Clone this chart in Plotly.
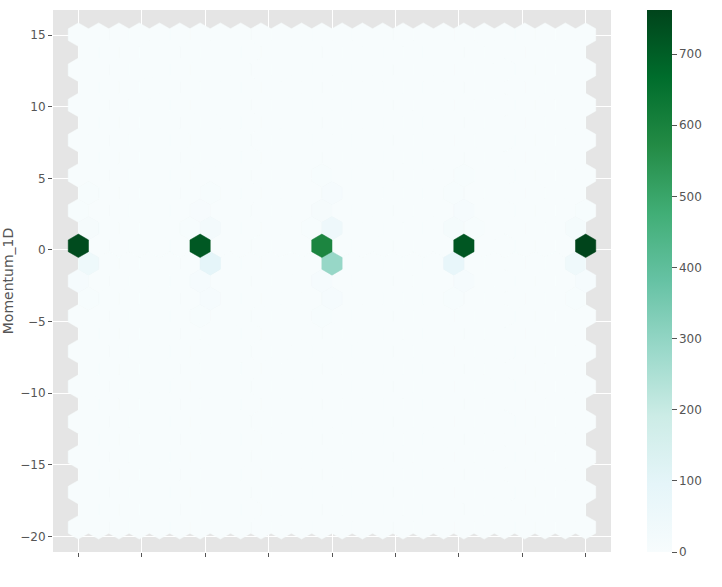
import numpy as np
import plotly.graph_objects as go
from plotly.colors import sample_colorscale

# ---- data range of the hexbin grid ----
x_min, x_max = 0.0, 4.0
y_min, y_max = -19.36, 15.03
gridsize_x = 25
gridsize_y = 14

# ---- non-empty hexagon cells (lattice 1 = main grid, 2 = offset grid) ----
hex_lattice = [1, 2, 2, 1, 1, 2, 2,
               1, 2, 2, 1, 1, 2, 2, 1, 2,
               1, 2, 2, 1, 2, 1, 2, 1, 1, 2,
               1, 2, 2, 1, 1, 2, 2, 2, 1,
               1, 2, 2, 1, 1, 2]
hex_col = [0, 0, 0, 0, 0, 0, 0,
           6, 6, 6, 6, 6, 6, 5, 6, 6,
           12, 12, 12, 12, 12, 12, 12, 12, 12, 11,
           19, 18, 18, 19, 19, 18, 19, 18, 19,
           25, 24, 24, 25, 25, 24]
hex_row = [8, 7, 8, 7, 9, 6, 9,
           8, 7, 8, 7, 9, 6, 8, 6, 9,
           8, 7, 8, 9, 9, 7, 6, 6, 10, 8,
           8, 7, 8, 9, 7, 6, 8, 9, 10,
           8, 7, 8, 7, 9, 6]
hex_count = [745, 45, 12, 8, 6, 4, 3,
             715, 95, 22, 8, 7, 8, 4, 3, 4,
             590, 290, 50, 12, 10, 10, 9, 4, 3, 5,
             720, 80, 16, 10, 10, 5, 4, 4, 3,
             762, 42, 14, 8, 5, 3]

count_max = 762
cbar_ticks = [0, 100, 200, 300, 400, 500, 600, 700]
y_ticks = [-20, -15, -10, -5, 0, 5, 10, 15]
x_ticks = [0, 0.5, 1, 1.5, 2, 2.5, 3, 3.5, 4]
y_label = "Momentum_1D"

# ---- geometry ----
sx = (x_max - x_min) / gridsize_x
sy = (y_max - y_min) / gridsize_y
hexagon = np.array([[0.5, -0.5], [0.5, 0.5], [0.0, 1.0], [-0.5, 0.5],
                    [-0.5, -0.5], [0.0, -1.0], [0.5, -0.5]]) * [sx, sy / 3.0]


def center(lat, i, j):
    if lat == 1:
        return x_min + i * sx, y_min + j * sy
    return x_min + (i + 0.5) * sx, y_min + (j + 0.5) * sy


nonzero = {(l, i, j) for l, i, j in zip(hex_lattice, hex_col, hex_row)}

zx, zy = [], []
cells = [(1, i, j) for i in range(gridsize_x + 1) for j in range(gridsize_y + 1)] + \
        [(2, i, j) for i in range(gridsize_x) for j in range(gridsize_y)]
for cell in cells:
    if cell in nonzero:
        continue
    cx, cy = center(*cell)
    zx += list(cx + hexagon[:, 0]) + [None]
    zy += list(cy + hexagon[:, 1]) + [None]

zero_color = sample_colorscale("BuGn", [0.0])[0]

fig = go.Figure()
fig.add_trace(go.Scatter(x=zx, y=zy, mode="lines", fill="toself",
                         fillcolor=zero_color, line=dict(color=zero_color, width=0.5),
                         hoverinfo="skip", showlegend=False))

order = np.argsort(hex_count)
for k in order:
    cx, cy = center(hex_lattice[k], hex_col[k], hex_row[k])
    col = sample_colorscale("BuGn", [hex_count[k] / count_max])[0]
    fig.add_trace(go.Scatter(x=list(cx + hexagon[:, 0]), y=list(cy + hexagon[:, 1]),
                             mode="lines", fill="toself", fillcolor=col,
                             line=dict(color=col, width=0.5),
                             hoverinfo="text", text=str(hex_count[k]),
                             showlegend=False))

# colorbar carrier
fig.add_trace(go.Scatter(
    x=[x_min, x_min], y=[y_min, y_min], mode="markers",
    marker=dict(color=[0, count_max], colorscale="BuGn", cmin=0, cmax=count_max,
                size=1, opacity=0, showscale=True,
                colorbar=dict(x=(647 - 53) / 558, xanchor="left", xpad=0, ypad=0,
                              y=0.5, yanchor="middle", len=1, lenmode="fraction",
                              thickness=25, outlinewidth=0,
                              tickvals=cbar_ticks, ticks="outside", ticklen=5,
                              tickcolor="#555555",
                              tickfont=dict(family="DejaVu Sans", size=12, color="#555555"))),
    hoverinfo="skip", showlegend=False))

yr = y_max - y_min
xr = x_max - x_min
fig.update_layout(
    width=722, height=587,
    margin=dict(l=53, r=111, t=10, b=35),
    plot_bgcolor="#E5E5E5", paper_bgcolor="white",
    font=dict(family="DejaVu Sans", size=12, color="#555555"),
    xaxis=dict(range=[x_min - 0.05 * xr, x_max + 0.05 * xr], tickvals=x_ticks,
               showticklabels=False, ticks="outside", ticklen=4, tickcolor="#555555",
               showgrid=True, gridcolor="white", gridwidth=1, zeroline=False,
               showline=False, automargin=False),
    yaxis=dict(range=[y_min - 0.05 * yr, y_max + 0.05 * yr], tickvals=y_ticks,
               ticks="outside", ticklen=4, tickcolor="#555555",
               showgrid=True, gridcolor="white", gridwidth=1, zeroline=False,
               showline=False, automargin=False,
               title=dict(text=y_label, font=dict(size=14, color="#555555"), standoff=6),
               tickfont=dict(size=12, color="#555555")),
)

fig.write_html("out.html")
